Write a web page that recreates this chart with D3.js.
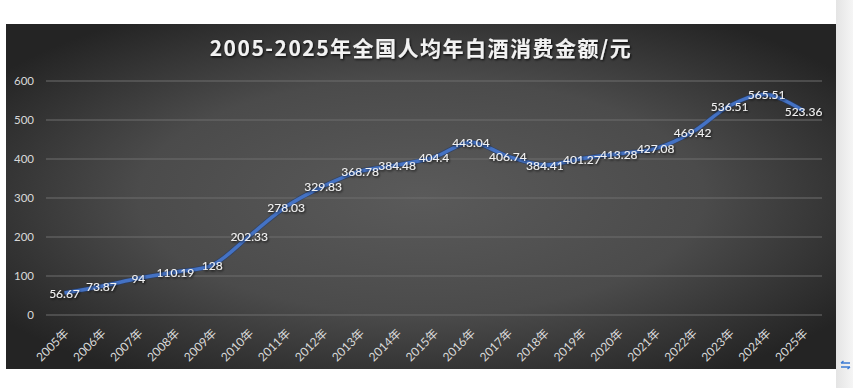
<!DOCTYPE html>
<html>
<head>
<meta charset="utf-8">
<script src="https://cdn.jsdelivr.net/npm/d3@7"></script>
<style>
  html, body { margin:0; padding:0; background:#fff; }
  svg { display:block; }
</style>
</head>
<body>
<svg id="chart" width="853" height="388"></svg>
<script>
const years = ["2005年","2006年","2007年","2008年","2009年","2010年","2011年","2012年","2013年","2014年","2015年",
  "2016年","2017年","2018年","2019年","2020年","2021年","2022年","2023年","2024年","2025年"];
const values = [56.67,73.87,94,110.19,128,202.33,278.03,329.83,368.78,384.48,404.4,
  443.04,406.74,384.41,401.27,413.28,427.08,469.42,536.51,565.51,523.36];
const labels = ["56.67","73.87","94","110.19","128","202.33","278.03","329.83","368.78","384.48","404.4",
  "443.04","406.74","384.41","401.27","413.28","427.08","469.42","536.51","565.51","523.36"];
const yTicks = [0,100,200,300,400,500,600];
const title = "2005-2025年全国人均年白酒消费金额/元";

const svg = d3.select("#chart");
const FONT = "Lato, 'Noto Sans CJK SC', sans-serif";

const defs = svg.append("defs");
const rg = defs.append("radialGradient").attr("id","bg")
  .attr("cx","50%").attr("cy","50%").attr("r","62%");
rg.append("stop").attr("offset","0%").attr("stop-color","#5a5a5a");
rg.append("stop").attr("offset","55%").attr("stop-color","#4b4b4b");
rg.append("stop").attr("offset","100%").attr("stop-color","#242424");

const side = defs.append("linearGradient").attr("id","side").attr("x1","0").attr("x2","1");
side.append("stop").attr("offset","0%").attr("stop-color","#e4e4e4");
side.append("stop").attr("offset","100%").attr("stop-color","#f5f5f5");

const sh = defs.append("filter").attr("id","shadow").attr("x","-20%").attr("y","-40%").attr("width","140%").attr("height","180%");
sh.append("feDropShadow").attr("dx",1).attr("dy",1.2).attr("stdDeviation",0.9).attr("flood-color","#000").attr("flood-opacity",0.85);

// side strip + small icon
svg.append("rect").attr("x",836).attr("y",0).attr("width",17).attr("height",388).attr("fill","url(#side)");
const icon = svg.append("g").attr("transform","translate(840,361)").attr("stroke","#3b7bd4").attr("stroke-width",1.4).attr("fill","none");
icon.append("path").attr("d","M1 2 H10 M1 2 L3.5 0 M1 6 H10 M10 6 L7.5 8");

// chart background
svg.append("rect").attr("x",6).attr("y",24).attr("width",830).attr("height",345).attr("fill","url(#bg)");

const x = d3.scaleBand().domain(years).range([46, 822]);
const y = d3.scaleLinear().domain([0, 600]).range([315, 81]);

// gridlines
svg.append("g").selectAll("line").data(yTicks).join("line")
  .attr("x1",46).attr("x2",822)
  .attr("y1",d=>y(d)).attr("y2",d=>y(d))
  .attr("stroke","#6e6e6e").attr("stroke-width",1);

// y axis
const yAxis = svg.append("g").attr("transform","translate(34,0)")
  .call(d3.axisLeft(y).tickValues(yTicks).tickSize(0).tickPadding(0));
yAxis.select(".domain").remove();
yAxis.selectAll("text").attr("fill","#d9d9d9").style("font-size","11.5px").style("font-family",FONT);

// x axis
const xAxis = svg.append("g").attr("transform","translate(0,315)")
  .call(d3.axisBottom(x).tickSize(0).tickPadding(0));
xAxis.select(".domain").remove();
xAxis.selectAll("text")
  .attr("fill","#d9d9d9").style("font-size","12px").style("font-family",FONT)
  .attr("text-anchor","end").attr("dy",0).attr("y",0)
  .attr("transform","translate(5,19) rotate(-45)");

// title
svg.append("text").attr("x",421).attr("y",56).attr("text-anchor","middle")
  .attr("fill","#f2f2f2").attr("filter","url(#shadow)")
  .style("font-size","21px").style("font-weight","bold").style("letter-spacing","1.5px")
  .style("font-family","'Noto Sans CJK SC', sans-serif")
  .text(title);

// line
const pts = years.map((d,i)=>[x(d)+x.bandwidth()/2, y(values[i])]);
const line = d3.line().curve(d3.curveCatmullRom.alpha(0.5));
svg.append("path").attr("d",line(pts)).attr("fill","none")
  .attr("stroke","#1f3a6e").attr("stroke-width",5).attr("stroke-linejoin","round").attr("opacity",0.6);
svg.append("path").attr("d",line(pts)).attr("fill","none")
  .attr("stroke","#4472C4").attr("stroke-width",3.5).attr("stroke-linejoin","round");

// data labels
svg.append("g").selectAll("text").data(years).join("text")
  .attr("x",(d)=>x(d)+x.bandwidth()/2)
  .attr("y",(d,i)=>y(values[i])+5)
  .attr("text-anchor","middle")
  .attr("fill","#f2f2f2").attr("filter","url(#shadow)")
  .style("font-size","12px").style("font-family",FONT)
  .text((d,i)=>labels[i]);
</script>
</body>
</html>
